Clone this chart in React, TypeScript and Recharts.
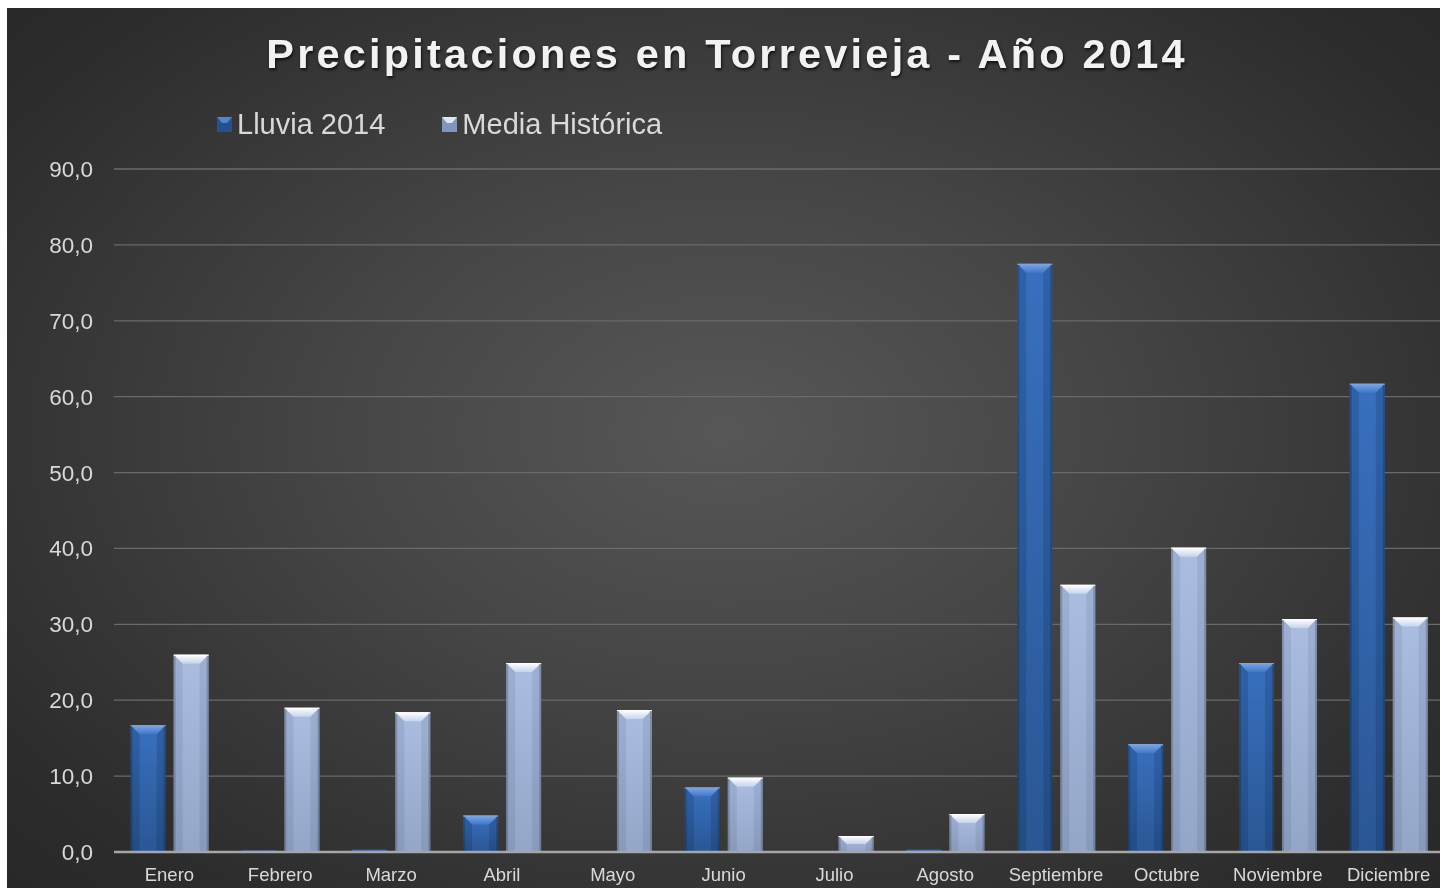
import { BarChart, Bar, XAxis, YAxis, CartesianGrid, Legend } from "recharts";

const months = [
  "Enero",
  "Febrero",
  "Marzo",
  "Abril",
  "Mayo",
  "Junio",
  "Julio",
  "Agosto",
  "Septiembre",
  "Octubre",
  "Noviembre",
  "Diciembre",
];
const lluvia2014 = [16.7, 0.2, 0.3, 4.8, 0.1, 8.5, 0, 0.3, 77.5, 14.2, 24.9, 61.7];
const mediaHistorica = [26.0, 19.0, 18.4, 24.9, 18.7, 9.8, 2.1, 5.0, 35.2, 40.1, 30.7, 30.9];
const yTicks = [0, 10, 20, 30, 40, 50, 60, 70, 80, 90];

const data = months.map((name, i) => ({
  name,
  lluvia: lluvia2014[i],
  media: mediaHistorica[i],
}));

const fmt = (v: number) => v.toFixed(1).replace(".", ",");

const textColor = "#d9d9d9";
const font = "'Liberation Sans', Arial, sans-serif";

// bevelled bar like the Excel "angle" effect
const makeBevel = (id: string, top: string) => (props: any) => {
  const { x, y, width, height } = props;
  if (height <= 0) return null;
  const b = Math.min(9, height / 2, width / 2);
  return (
    <g>
      <rect x={x} y={y} width={width} height={height} fill={`url(#${id}-body)`} />
      {height > 3 && (
        <>
          <polygon
            points={`${x},${y} ${x + width},${y} ${x + width - b},${y + b} ${x + b},${y + b}`}
            fill={`url(#${id}-top)`}
          />
          <polygon
            points={`${x},${y} ${x + b},${y + b} ${x + b},${y + height} ${x},${y + height}`}
            fill={`url(#${id}-side)`}
            opacity={0.3}
          />
          <polygon
            points={`${x + width},${y} ${x + width - b},${y + b} ${x + width - b},${y + height} ${x + width},${y + height}`}
            fill={`url(#${id}-side)`}
            opacity={0.3}
          />
          <rect x={x} y={y} width={2} height={height} fill="#000" opacity={0.18} />
          <rect x={x + width - 2} y={y} width={2} height={height} fill="#000" opacity={0.18} />
          <line x1={x} y1={y + 0.5} x2={x + width} y2={y + 0.5} stroke={top} strokeWidth={1} />
        </>
      )}
    </g>
  );
};

const LluviaShape = makeBevel("ll", "#7aa6e6");
const MediaShape = makeBevel("md", "#ffffff");

const legendItems = [
  { label: "Lluvia 2014", c1: "#4f86d0", c2: "#24518f" },
  { label: "Media Histórica", c1: "#dde6f5", c2: "#8296bb" },
];

const renderLegend = () => (
  <div style={{ display: "flex", fontFamily: font, fontSize: 29, color: textColor }}>
    {legendItems.map((it, i) => (
      <div
        key={it.label}
        style={{ display: "flex", alignItems: "center", marginRight: i === 0 ? 57 : 0 }}
      >
        <svg width={15} height={15} style={{ marginRight: 5 }}>
          <rect x={0} y={0} width={15} height={15} fill={it.c2} />
          <polygon points="0,0 15,0 10,6 5,6" fill={it.c1} />
          <rect x={2} y={6} width={11} height={8} fill={it.c2} opacity={0.9} />
        </svg>
        <span style={{ lineHeight: "32px" }}>{it.label}</span>
      </div>
    ))}
  </div>
);

export default function App() {
  return (
    <div
      style={{
        position: "fixed",
        top: 8,
        left: 7,
        width: 1433,
        height: 880,
        overflow: "hidden",
        background:
          "radial-gradient(ellipse 75% 80% at 50% 48%, #575757 0%, #464646 35%, #2c2c2c 80%, #262626 100%)",
      }}
    >
      <div
        style={{
          position: "absolute",
          top: 22,
          left: 0,
          width: 1440,
          textAlign: "center",
          fontFamily: font,
          fontWeight: "bold",
          fontSize: 41.5,
          letterSpacing: 3.2,
          color: "#f2f2f2",
          textShadow: "1px 2px 3px rgba(0,0,0,0.7)",
        }}
      >
        Precipitaciones en Torrevieja - Año 2014
      </div>
      <BarChart
        width={1437}
        height={880}
        data={data}
        margin={{ top: 161, right: 0, bottom: 0, left: 0 }}
        barGap={8}
        barCategoryGap="15%"
      >
        <defs>
          <linearGradient id="ll-body" x1="0" y1="0" x2="0" y2="1">
            <stop offset="0%" stopColor="#3870bf" />
            <stop offset="100%" stopColor="#2a5794" />
          </linearGradient>
          <linearGradient id="ll-top" x1="0" y1="0" x2="0" y2="1">
            <stop offset="0%" stopColor="#7aa6e6" />
            <stop offset="100%" stopColor="#3f78c8" />
          </linearGradient>
          <linearGradient id="ll-side" x1="0" y1="0" x2="0" y2="1">
            <stop offset="0%" stopColor="#1a3f75" />
            <stop offset="100%" stopColor="#143260" />
          </linearGradient>
          <linearGradient id="md-body" x1="0" y1="0" x2="0" y2="1">
            <stop offset="0%" stopColor="#abbde0" />
            <stop offset="100%" stopColor="#94a6c8" />
          </linearGradient>
          <linearGradient id="md-top" x1="0" y1="0" x2="0" y2="1">
            <stop offset="0%" stopColor="#ffffff" />
            <stop offset="100%" stopColor="#c4d3ee" />
          </linearGradient>
          <linearGradient id="md-side" x1="0" y1="0" x2="0" y2="1">
            <stop offset="0%" stopColor="#7d8fb2" />
            <stop offset="100%" stopColor="#6b7c9c" />
          </linearGradient>
        </defs>
        <CartesianGrid vertical={false} stroke="#6a6a6a" strokeWidth={1.3} />
        <XAxis
          dataKey="name"
          height={36}
          tickLine={false}
          axisLine={{ stroke: "#a6a6a6", strokeWidth: 2.5 }}
          tick={{ fill: textColor, fontSize: 18.5, fontFamily: font }}
          tickMargin={10}
          interval={0}
        />
        <YAxis
          width={107}
          domain={[0, 90]}
          ticks={yTicks}
          tickFormatter={fmt}
          axisLine={false}
          tickLine={false}
          tickSize={0}
          tickMargin={21}
          tick={{ fill: textColor, fontSize: 22.5, fontFamily: font }}
        />
        <Legend
          layout="vertical"
          align="center"
          verticalAlign="middle"
          content={renderLegend}
          wrapperStyle={{ position: "absolute", top: 100, left: 210, width: "auto" }}
        />
        <Bar
          dataKey="lluvia"
          name="Lluvia 2014"
          fill="#3468b0"
          shape={LluviaShape}
          isAnimationActive={false}
        />
        <Bar
          dataKey="media"
          name="Media Histórica"
          fill="#a8badc"
          shape={MediaShape}
          isAnimationActive={false}
        />
      </BarChart>
    </div>
  );
}
